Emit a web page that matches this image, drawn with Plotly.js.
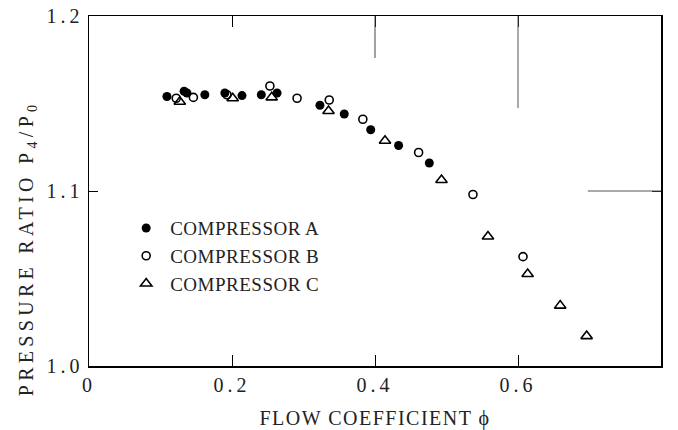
<!DOCTYPE html>
<html>
<head>
<meta charset="utf-8">
<script src="https://cdn.plot.ly/plotly-3.0.1.min.js"></script>
<style>
  html, body { margin: 0; padding: 0; background: #fff; }
  #chart { width: 678px; height: 430px; }
  .xtick text, .ytick text { letter-spacing: 4px; }
  .g-xtitle text { letter-spacing: 1.5px; }
  .annotation-text { letter-spacing: 4.3px; }
  .legendtext { letter-spacing: 0.5px; }
</style>
</head>
<body>
<div id="chart"></div>
<script>
// Compressor A (filled circles)
const compAx = [0.109, 0.133, 0.137, 0.162, 0.190, 0.214, 0.241, 0.263, 0.323, 0.357, 0.394, 0.433, 0.476];
const compAy = [1.154, 1.157, 1.156, 1.155, 1.156, 1.1545, 1.155, 1.156, 1.149, 1.144, 1.135, 1.126, 1.116];
// Compressor B (open circles)
const compBx = [0.122, 0.146, 0.193, 0.253, 0.291, 0.336, 0.383, 0.461, 0.537, 0.607];
const compBy = [1.153, 1.1535, 1.155, 1.160, 1.153, 1.152, 1.141, 1.122, 1.098, 1.0625];
// Compressor C (open triangles)
const compCx = [0.127, 0.201, 0.2555, 0.335, 0.414, 0.493, 0.558, 0.6135, 0.659, 0.696];
const compCy = [1.151, 1.153, 1.1535, 1.1457, 1.1287, 1.1063, 1.074, 1.0526, 1.0345, 1.0171];

const seriesNames = ['COMPRESSOR A', 'COMPRESSOR B', 'COMPRESSOR C'];
const xTickVals = [0, 0.2, 0.4, 0.6, 0.8];
const xTickText = ['0', '0.2', '0.4', '0.6', '0.8'];
const yTickVals = [1.0, 1.1, 1.2];
const yTickText = ['1.0', '1.1', '1.2'];
const xTitle = 'FLOW COEFFICIENT ϕ';
const yTitle = 'PRESSURE RATIO P<sub>4</sub>/P<sub>0</sub>';

const FONT = 'Liberation Serif, Times New Roman, serif';
const INK = '#222';

const traces = [
  { x: compAx, y: compAy, name: seriesNames[0], mode: 'markers', type: 'scatter',
    marker: { symbol: 'circle', size: 9, color: '#000', line: { width: 0 } } },
  { x: compBx, y: compBy, name: seriesNames[1], mode: 'markers', type: 'scatter',
    marker: { symbol: 'circle-open', size: 8, color: '#000', line: { width: 1.6, color: '#000' } } },
  { x: compCx, y: compCy, name: seriesNames[2], mode: 'markers', type: 'scatter',
    marker: { symbol: 'triangle-up-open', size: 10, color: '#000', line: { width: 1.6, color: '#000' } } }
];

const layout = {
  width: 678, height: 430,
  margin: { l: 89, r: 17, t: 16, b: 64 },
  paper_bgcolor: '#fff', plot_bgcolor: '#fff',
  font: { family: FONT, color: INK, size: 19 },
  showlegend: true,
  legend: {
    x: 0.058, y: 0.448, xanchor: 'left', yanchor: 'top',
    bgcolor: 'rgba(0,0,0,0)', font: { family: FONT, size: 19, color: INK },
    itemclick: false, tracegroupgap: 0, itemwidth: 38
  },
  xaxis: {
    range: [0, 0.8], tickmode: 'array', tickvals: xTickVals, ticktext: xTickText,
    showgrid: false, zeroline: false,
    showline: true, linecolor: '#000', linewidth: 1.5, mirror: 'ticks',
    ticks: 'inside', ticklen: 11, tickwidth: 1, tickcolor: '#000',
    tickfont: { family: FONT, size: 20, color: INK },
    title: { text: xTitle, font: { family: FONT, size: 20, color: INK }, standoff: 18 }
  },
  yaxis: {
    range: [1.0, 1.2], tickmode: 'array', tickvals: yTickVals, ticktext: yTickText,
    showgrid: false, zeroline: false,
    showline: true, linecolor: '#000', linewidth: 1.5, mirror: 'ticks',
    ticks: 'inside', ticklen: 9, tickwidth: 1, tickcolor: '#000',
    tickfont: { family: FONT, size: 20, color: INK }
  },
  annotations: [
    { text: yTitle, xref: 'paper', yref: 'paper', x: -0.108, y: 0.337,
      xanchor: 'center', yanchor: 'middle', textangle: -90, showarrow: false,
      font: { family: FONT, size: 20, color: INK } }
  ],
  shapes: [
    { type: 'line', xref: 'x', yref: 'paper', x0: 0.4, x1: 0.4, y0: 1, y1: 0.88, line: { color: '#444', width: 1 } },
    { type: 'line', xref: 'x', yref: 'paper', x0: 0.6, x1: 0.6, y0: 1, y1: 0.737, line: { color: '#555', width: 1 } },
    { type: 'line', xref: 'paper', yref: 'y', x0: 0.872, x1: 1, y0: 1.1, y1: 1.1, line: { color: '#555', width: 1 } }
  ]
};

Plotly.newPlot('chart', traces, layout, { staticPlot: true, displayModeBar: false });
</script>
</body>
</html>
